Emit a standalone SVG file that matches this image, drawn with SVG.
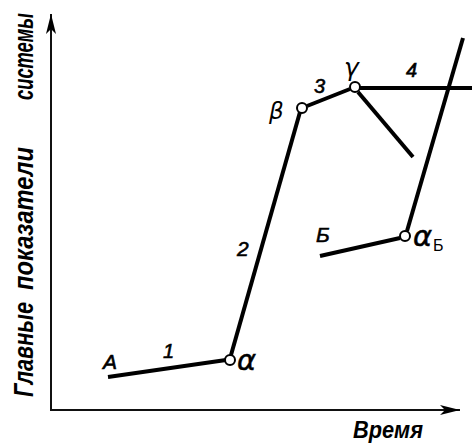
<svg xmlns="http://www.w3.org/2000/svg" width="472" height="443" viewBox="0 0 472 443">
<style>
.ax{stroke:#111;stroke-width:2;fill:none}
.ln{stroke:#000;stroke-width:4;fill:none;stroke-linecap:butt}
.pt{fill:#fff;stroke:#000;stroke-width:2}
.t{font-family:"Liberation Sans",Arial,sans-serif;font-style:italic;font-weight:bold;fill:#000}
.n{font-family:"Liberation Sans",Arial,sans-serif;font-style:italic;fill:#000;stroke:#000;stroke-width:0.6}
.g{font-family:"DejaVu Sans",sans-serif;font-style:italic;fill:#000}
.s{font-family:"Liberation Sans",Arial,sans-serif;fill:#000}
</style>
<defs>
<marker id="ah" viewBox="0 0 20 10" refX="20" refY="5" markerWidth="20" markerHeight="10" markerUnits="userSpaceOnUse" orient="auto">
<path d="M0,0 L20,5 L0,10 L5,5 Z" fill="#000"/>
</marker>
</defs>
<g id="axes">
<line class="ax" x1="51" y1="410" x2="51" y2="14" marker-end="url(#ah)"/>
<line class="ax" x1="50" y1="410" x2="460" y2="410" marker-end="url(#ah)"/>
<text class="t" transform="translate(33,397) rotate(-90) scale(1,1.35)" font-size="20" textLength="95" lengthAdjust="spacingAndGlyphs">Главные</text>
<text class="t" transform="translate(33,290) rotate(-90) scale(1,1.35)" font-size="20" textLength="143" lengthAdjust="spacingAndGlyphs">показатели</text>
<text class="t" transform="translate(33,100) rotate(-90) scale(1,1.35)" font-size="20" textLength="87" lengthAdjust="spacingAndGlyphs">системы</text>
<text class="t" x="353" y="438" font-size="24" textLength="70" lengthAdjust="spacingAndGlyphs">Время</text>
</g>
<g id="connectors">
<line class="ln" x1="108" y1="377" x2="226" y2="360"/>
<line class="ln" x1="231" y1="355" x2="300" y2="112"/>
<line class="ln" x1="307" y1="106" x2="350" y2="89"/>
<line class="ln" x1="360" y1="88" x2="472" y2="88"/>
<line class="ln" x1="358" y1="92" x2="413" y2="157"/>
<line class="ln" x1="320" y1="256" x2="400" y2="238"/>
<line class="ln" x1="407" y1="231" x2="463" y2="38"/>
</g>
<g id="node-A"><text class="n" x="103" y="369" font-size="21">A</text></g>
<g id="label-1"><text class="n" x="163" y="358" font-size="20">1</text></g>
<g id="node-alpha"><circle class="pt" cx="230" cy="360" r="5"/><text class="g" x="237" y="370" font-size="29" stroke="#000" stroke-width="0.5">α</text></g>
<g id="label-2"><text class="n" x="237" y="256" font-size="21">2</text></g>
<g id="node-beta"><circle class="pt" cx="302" cy="108" r="5"/><text class="g" x="269" y="119" font-size="23">β</text></g>
<g id="label-3"><text class="n" x="314" y="93" font-size="20">3</text></g>
<g id="node-gamma"><circle class="pt" cx="355" cy="87" r="5"/><text class="g" x="344" y="76" font-size="25">γ</text></g>
<g id="label-4"><text class="n" x="406" y="77" font-size="20">4</text></g>
<g id="node-B"><text class="n" x="316" y="242" font-size="21">Б</text></g>
<g id="node-alphaB"><circle class="pt" cx="405" cy="236" r="5"/><text class="g" x="413" y="246" font-size="29" stroke="#000" stroke-width="0.5">α</text><text class="s" x="433" y="251" font-size="16">Б</text></g>
</svg>
